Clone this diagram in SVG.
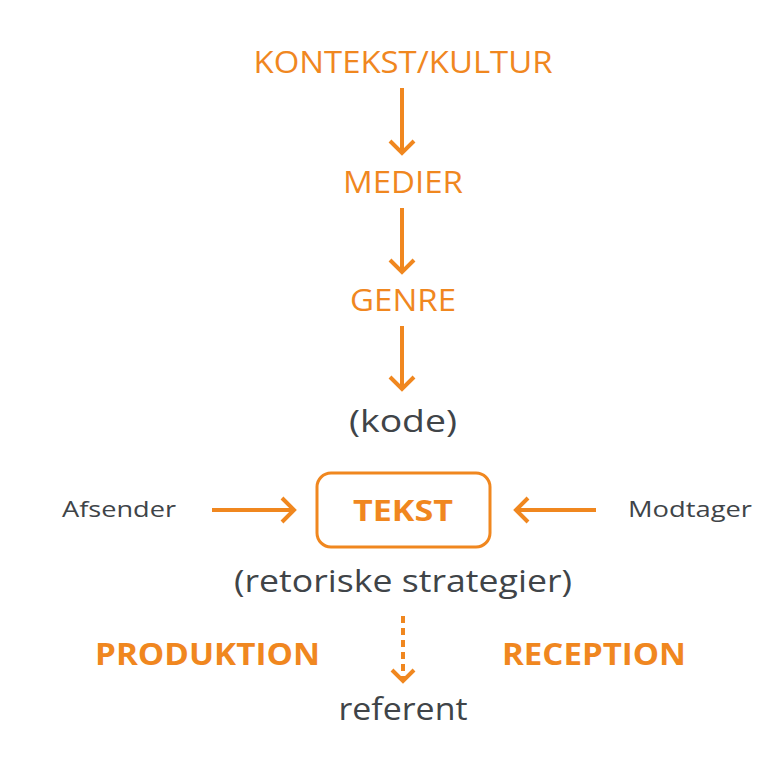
<svg xmlns="http://www.w3.org/2000/svg" width="775" height="770" viewBox="0 0 775 770">
<defs>
<style>
.o{fill:#F0871F;font-family:"Open Sans","Liberation Sans",sans-serif;}
.g{fill:#404448;font-family:"Open Sans","Liberation Sans",sans-serif;}
.b{font-weight:bold;}
.ln{stroke:#F0871F;stroke-width:4;fill:none;stroke-linecap:butt;}
.hd{stroke:#F0871F;stroke-width:4;fill:none;stroke-linejoin:miter;}
</style>
</defs>
<rect width="775" height="770" fill="#ffffff"/>
<g id="kontekst"><text class="o" x="403" y="73" font-size="31" text-anchor="middle" textLength="299" lengthAdjust="spacingAndGlyphs">KONTEKST/KULTUR</text></g>
<g id="medier"><text class="o" x="403" y="193" font-size="31" text-anchor="middle" textLength="120" lengthAdjust="spacingAndGlyphs">MEDIER</text></g>
<g id="genre"><text class="o" x="403" y="311" font-size="31" text-anchor="middle" textLength="106" lengthAdjust="spacingAndGlyphs">GENRE</text></g>
<g id="kode"><text class="g" x="403" y="432" font-size="31" text-anchor="middle" textLength="108" lengthAdjust="spacingAndGlyphs">(kode)</text></g>
<g id="tekst">
<rect x="317" y="473" width="173" height="74" rx="14" fill="none" stroke="#F0871F" stroke-width="3"/>
<text class="o b" x="403" y="521" font-size="29" text-anchor="middle" textLength="100" lengthAdjust="spacingAndGlyphs">TEKST</text>
</g>
<g id="afsender"><text class="g" x="62" y="517" font-size="22" textLength="114" lengthAdjust="spacingAndGlyphs">Afsender</text></g>
<g id="modtager"><text class="g" x="628" y="517" font-size="22" textLength="124" lengthAdjust="spacingAndGlyphs">Modtager</text></g>
<g id="retoriske"><text class="g" x="403" y="592" font-size="31" text-anchor="middle" textLength="338" lengthAdjust="spacingAndGlyphs">(retoriske strategier)</text></g>
<g id="produktion"><text class="o b" x="95" y="665" font-size="30" textLength="225" lengthAdjust="spacingAndGlyphs">PRODUKTION</text></g>
<g id="reception"><text class="o b" x="502" y="665" font-size="30" textLength="184" lengthAdjust="spacingAndGlyphs">RECEPTION</text></g>
<g id="referent"><text class="g" x="403" y="720" font-size="31" text-anchor="middle" textLength="129" lengthAdjust="spacingAndGlyphs">referent</text></g>
<g id="connectors">
<line class="ln" x1="402" y1="88" x2="402" y2="153"/>
<polyline class="hd" points="390,141 402,153 414,141"/>
<line class="ln" x1="402" y1="208" x2="402" y2="272"/>
<polyline class="hd" points="390,260 402,272 414,260"/>
<line class="ln" x1="402" y1="326" x2="402" y2="389"/>
<polyline class="hd" points="390,377 402,389 414,377"/>
<line class="ln" x1="212" y1="510" x2="294" y2="510"/>
<polyline class="hd" points="282,498 294,510 282,522"/>
<line class="ln" x1="596" y1="510" x2="516" y2="510"/>
<polyline class="hd" points="528,498 516,510 528,522"/>
<line class="ln" x1="403" y1="616" x2="403" y2="680" stroke-dasharray="7,5"/>
<polyline class="hd" points="392,670 403,681 414,670"/>
</g>
</svg>
